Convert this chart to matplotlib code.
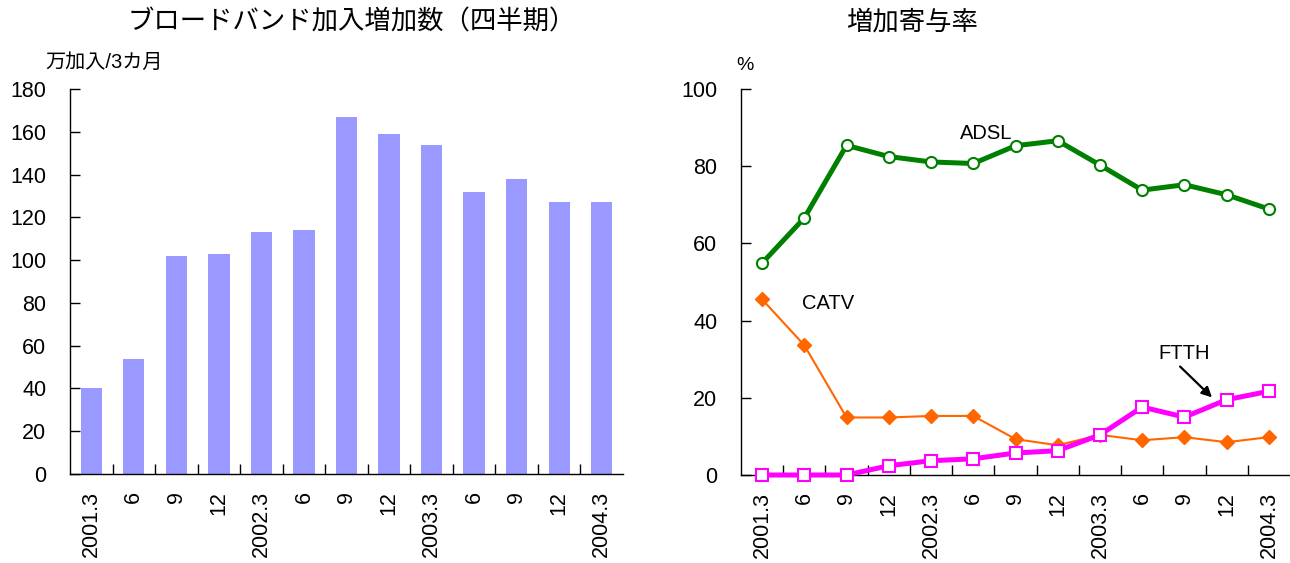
import matplotlib
matplotlib.use("Agg")
import matplotlib.pyplot as plt
import numpy as np

plt.rcParams['font.family'] = ['Liberation Sans', 'Noto Sans CJK JP', 'DejaVu Sans']
plt.rcParams['xtick.direction'] = 'in'
plt.rcParams['ytick.direction'] = 'in'

# quarter labels shared by both panels
quarters = ["2001.3", "6", "9", "12", "2002.3", "6", "9", "12",
            "2003.3", "6", "9", "12", "2004.3"]

# broadband subscriber increase per quarter (10k subscribers / 3 months)
increase = [40, 54, 102, 103, 113, 114, 167, 159, 154, 132, 138, 127, 127]

# contribution share of each technology (%)
adsl = [54.9, 66.6, 85.4, 82.5, 81.1, 80.7, 85.3, 86.6, 80.3, 73.8, 75.2, 72.6, 68.9]
catv = [45.5, 33.6, 14.9, 14.9, 15.3, 15.3, 9.3, 7.7, 10.4, 9.0, 9.8, 8.5, 9.8]
ftth = [0.0, 0.0, 0.0, 2.4, 3.7, 4.2, 5.7, 6.3, 10.4, 17.6, 15.0, 19.5, 21.7]

x = np.arange(len(quarters))

fig = plt.figure(figsize=(12.9, 5.63), dpi=100)

def style_axis(ax):
    ax.spines['top'].set_visible(False)
    ax.spines['right'].set_visible(False)
    ax.spines['left'].set_linewidth(1.0)
    ax.spines['bottom'].set_linewidth(1.0)
    ax.set_xlim(-0.5, len(quarters) - 0.5)
    # category ticks sit between the groups, labels at the centres
    ax.set_xticks(x[:-1] + 0.5)
    ax.set_xticklabels([])
    ax.set_xticks(x, minor=True)
    ax.set_xticklabels(quarters, minor=True, rotation=90, fontsize=15.5)
    ax.tick_params(axis='x', which='major', direction='in', length=7, width=1)
    ax.tick_params(axis='x', which='minor', length=0, pad=12)
    ax.tick_params(axis='y', direction='in', length=7, width=1, labelsize=15.5, pad=17)

# left panel: bars
ax1 = fig.add_axes([70 / 1290, 89 / 563, 553 / 1290, 385 / 563])
ax1.bar(x, increase, width=0.5, color='#9999FF', zorder=2)
ax1.set_ylim(0, 180)
ax1.set_yticks(np.arange(0, 181, 20))
style_axis(ax1)
fig.text(352 / 1290, 1 - 22 / 563, "ブロードバンド加入増加数（四半期）",
         ha='center', va='center', fontsize=19)
fig.text(45 / 1290, 1 - 62 / 563, "万加入/3カ月", ha='left', va='center', fontsize=14.5)

# right panel: lines
ax2 = fig.add_axes([741 / 1290, 88 / 563, 549 / 1290, 386 / 563])
ax2.plot(x, adsl, color='#008000', lw=3.6, marker='o', ms=8,
         mfc='white', mec='#008000', mew=1.5, zorder=3)
ax2.plot(x, catv, color='#FF6600', lw=1.5, marker='D', ms=7,
         mfc='#FF6600', mec='#FF6600', zorder=4)
ax2.plot(x, ftth, color='#FF00FF', lw=3.6, marker='s', ms=8,
         mfc='white', mec='#FF00FF', mew=1.5, zorder=5)
ax2.set_ylim(0, 100)
ax2.set_yticks(np.arange(0, 101, 20))
style_axis(ax2)
for line in ax2.get_lines():
    line.set_clip_on(False)

ax2.text(5.3, 88.5, "ADSL", fontsize=14.5, ha='center', va='center')
ax2.text(1.55, 44.5, "CATV", fontsize=14.5, ha='center', va='center')
ax2.text(10.0, 31.5, "FTTH", fontsize=14.5, ha='center', va='center')
ax2.annotate("", xy=(10.7, 19.6), xytext=(9.85, 28.6),
             arrowprops=dict(arrowstyle='-|>', color='black', lw=1.6,
                             mutation_scale=15))

fig.text(912 / 1290, 1 - 22 / 563, "増加寄与率", ha='center', va='center', fontsize=19)
fig.text(745 / 1290, 1 - 65 / 563, "%", ha='center', va='center', fontsize=14)

fig.savefig("out.png", dpi=100)
